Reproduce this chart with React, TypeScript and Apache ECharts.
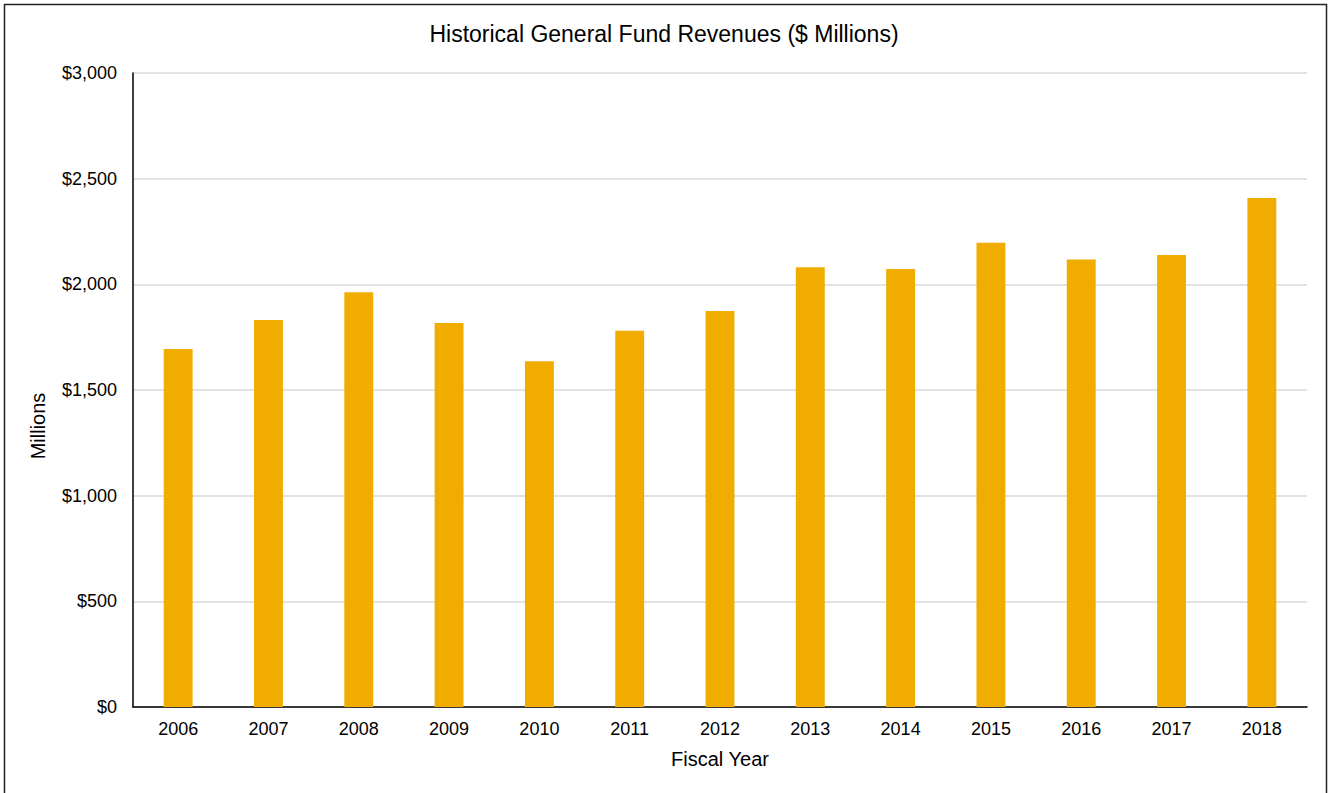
import React, { useEffect, useRef } from "react";
import * as echarts from "echarts";

const years = ["2006", "2007", "2008", "2009", "2010", "2011", "2012", "2013", "2014", "2015", "2016", "2017", "2018"];
const revenues = [1694, 1831, 1962, 1817, 1636, 1780, 1874, 2081, 2073, 2197, 2117, 2139, 2409];
const yTicks = [0, 500, 1000, 1500, 2000, 2500, 3000];

const FONT = "'Liberation Sans', Arial, sans-serif";

export default function App() {
  const ref = useRef<HTMLDivElement>(null);
  useEffect(() => {
    document.body.style.margin = "0";
    const chart = echarts.init(ref.current!, null, { renderer: "svg" });
    chart.setOption({
      animation: false,
      backgroundColor: "#ffffff",
      title: {
        text: "Historical General Fund Revenues ($ Millions)",
        left: "center",
        top: 17,
        textStyle: { fontFamily: FONT, fontSize: 23, fontWeight: "normal", color: "#000" },
      },
      graphic: [
        {
          type: "rect",
          shape: { x: 4.5, y: 4.5, width: 1322, height: 800 },
          style: { fill: "none", stroke: "#222", lineWidth: 1.5 },
          silent: true,
        },
        {
          type: "text",
          x: 38,
          y: 426,
          rotation: Math.PI / 2,
          style: {
            text: "Millions",
            fontFamily: FONT,
            fontSize: 20,
            fill: "#000",
            align: "center",
            verticalAlign: "middle",
          },
        },
      ],
      grid: { left: 133, right: 21, top: 73, bottom: 86, containLabel: false },
      xAxis: {
        type: "category",
        data: years,
        name: "Fiscal Year",
        nameLocation: "middle",
        nameGap: 42,
        nameTextStyle: { fontFamily: FONT, fontSize: 20, color: "#000" },
        axisLine: { lineStyle: { color: "#000", width: 1.5 } },
        axisTick: { show: false },
        axisLabel: { fontFamily: FONT, fontSize: 18, color: "#000", margin: 13 },
      },
      yAxis: {
        type: "value",
        min: yTicks[0],
        max: yTicks[yTicks.length - 1],
        interval: 500,
        axisLine: { show: true, lineStyle: { color: "#000", width: 1.5 } },
        axisTick: { show: false },
        axisLabel: {
          fontFamily: FONT,
          fontSize: 18,
          color: "#000",
          margin: 16,
          formatter: (v: number) => "$" + v.toLocaleString("en-US"),
        },
        splitLine: { lineStyle: { color: "#d9d9d9", width: 1.5 } },
      },
      series: [
        {
          type: "bar",
          data: revenues,
          barWidth: "32%",
          itemStyle: { color: "#F0AD00" },
        },
      ],
    });
    return () => chart.dispose();
  }, []);
  return <div ref={ref} style={{ width: 1328, height: 793, position: "absolute", left: 0, top: 0 }} />;
}
